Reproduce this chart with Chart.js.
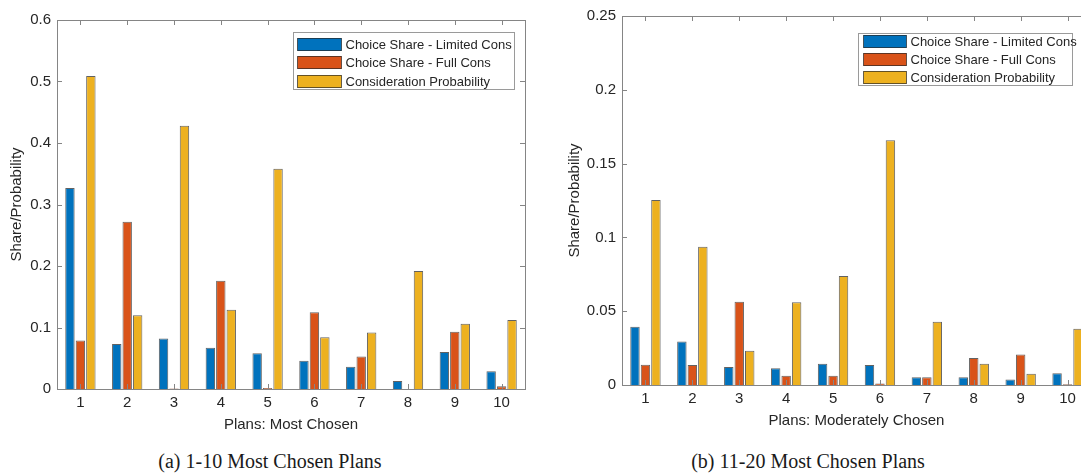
<!DOCTYPE html>
<html>
<head>
<meta charset="utf-8">
<script src="https://cdn.jsdelivr.net/npm/chart.js@4.4.0/dist/chart.umd.min.js"></script>
<style>
  html, body { margin: 0; padding: 0; background: #fff; width: 1081px; height: 476px; overflow: hidden; position: relative; }
  canvas { position: absolute; top: 0; }
  #chartA { left: 0; }
  #chartB { left: 560px; }
  .caption { position: absolute; top: 450px; font-family: "Liberation Serif", serif; font-size: 20px; color: #1a1a1a; transform: translateX(-50%); white-space: nowrap; }
</style>
</head>
<body>
<canvas id="chartA" width="540" height="440"></canvas>
<canvas id="chartB" width="546" height="436"></canvas>
<div class="caption" style="left:270px">(a) 1-10 Most Chosen Plans</div>
<div class="caption" style="left:808px">(b) 11-20 Most Chosen Plans</div>
<script>
// categories
const plans = ['1', '2', '3', '4', '5', '6', '7', '8', '9', '10'];
const seriesNames = ['Choice Share - Limited Cons', 'Choice Share - Full Cons', 'Consideration Probability'];
const seriesColors = ['#0072BD', '#D95319', '#EDB120'];

// (a) 1-10 most chosen plans
const mostLimited  = [0.327, 0.073, 0.082, 0.067, 0.058, 0.046, 0.036, 0.013, 0.060, 0.029];
const mostFull     = [0.079, 0.272, 0.001, 0.176, 0.0015, 0.125, 0.053, 0.0, 0.093, 0.0043];
const mostConsider = [0.509, 0.120, 0.428, 0.129, 0.358, 0.084, 0.092, 0.192, 0.106, 0.112];

// (b) 11-20 most chosen plans
const modLimited  = [0.0394, 0.0295, 0.0122, 0.0113, 0.0144, 0.0135, 0.0052, 0.0052, 0.0038, 0.0079];
const modFull     = [0.0138, 0.0135, 0.0564, 0.0063, 0.0063, 0.0010, 0.0052, 0.0183, 0.0207, 0.0005];
const modConsider = [0.1253, 0.0936, 0.0232, 0.0561, 0.0739, 0.1659, 0.0428, 0.0144, 0.0077, 0.0381];

// y tick labels
const mostTicks = [0, 0.1, 0.2, 0.3, 0.4, 0.5, 0.6];
const modTicks  = [0, 0.05, 0.1, 0.15, 0.2, 0.25];

const textColor = '#262626';
const axisColor = '#858585';
const sans = '"Liberation Sans", Arial, sans-serif';

// matlab style box, inward ticks and boxed legend inside the axes
const matlabFrame = {
  id: 'matlabFrame',
  afterDraw(chart, args, opts) {
    const { ctx, chartArea: a, scales: { x, y } } = chart;
    ctx.save();
    ctx.strokeStyle = axisColor;
    ctx.lineWidth = 1;
    ctx.beginPath();
    x.ticks.forEach((t, i) => {
      const px = Math.round(x.getPixelForTick(i)) + 0.5;
      ctx.moveTo(px, a.bottom); ctx.lineTo(px, a.bottom - 5);
      ctx.moveTo(px, a.top); ctx.lineTo(px, a.top + 5);
    });
    y.ticks.forEach((t, i) => {
      const py = Math.round(y.getPixelForTick(i)) + 0.5;
      ctx.moveTo(a.left, py); ctx.lineTo(a.left + 5, py);
      ctx.moveTo(a.right, py); ctx.lineTo(a.right - 5, py);
    });
    ctx.stroke();
    ctx.strokeRect(Math.round(a.left) + 0.5, Math.round(a.top) + 0.5, Math.round(a.width), Math.round(a.height));

    // legend
    const x0 = Math.round(a.right - opts.right - opts.width) + 0.5;
    const y0 = Math.round(a.top + opts.top) + 0.5;
    ctx.fillStyle = '#fff';
    ctx.fillRect(x0, y0, opts.width, opts.height);
    ctx.strokeStyle = '#9a9a9a';
    ctx.strokeRect(x0, y0, opts.width, opts.height);
    ctx.font = '13px ' + sans;
    ctx.textBaseline = 'middle';
    chart.data.datasets.forEach((ds, i) => {
      const sy = Math.round(y0 + opts.padTop + i * opts.rowH);
      ctx.fillStyle = ds.backgroundColor;
      ctx.fillRect(x0 + opts.padLeft, sy, opts.swatchW, opts.swatchH);
      ctx.strokeStyle = 'rgba(40,40,40,0.7)';
      ctx.strokeRect(x0 + opts.padLeft, sy + 0.5, opts.swatchW, opts.swatchH - 1);
      ctx.fillStyle = textColor;
      ctx.fillText(ds.label, x0 + opts.padLeft + opts.swatchW + 4, sy + opts.swatchH / 2 + 0.5);
    });
    ctx.restore();
  }
};

function makeChart(id, series, yTicks, xTitle, yWidth, yTitlePad, pad, legendOpts) {
  return new Chart(document.getElementById(id), {
    type: 'bar',
    data: {
      labels: plans,
      datasets: series.map((vals, i) => ({
        label: seriesNames[i],
        data: vals,
        backgroundColor: seriesColors[i],
        borderColor: 'rgba(45,45,45,0.75)',
        borderWidth: 1,
        barPercentage: 0.9,
        categoryPercentage: 0.67
      }))
    },
    options: {
      responsive: false,
      animation: false,
      layout: { padding: pad },
      plugins: {
        legend: { display: false },
        tooltip: { enabled: false },
        matlabFrame: legendOpts
      },
      scales: {
        x: {
          grid: { display: false, drawTicks: false },
          border: { display: false },
          ticks: { color: textColor, font: { family: sans, size: 15 }, padding: 5, maxRotation: 0 },
          title: { display: true, text: xTitle, color: textColor, font: { family: sans, size: 15 }, padding: { top: 0, bottom: 6 } },
          afterFit(s) { s.height = 51; }
        },
        y: {
          min: 0,
          max: yTicks[yTicks.length - 1],
          grid: { display: false, drawTicks: false },
          border: { display: false },
          afterBuildTicks(s) { s.ticks = yTicks.map(v => ({ value: v })); },
          ticks: {
            color: textColor,
            font: { family: sans, size: 15 },
            padding: 6,
            callback: v => String(+Number(v).toFixed(4))
          },
          title: { display: true, text: 'Share/Probability', color: textColor, font: { family: sans, size: 15 }, padding: { top: yTitlePad, bottom: 0 } },
          afterFit(s) { s.width = yWidth; }
        }
      }
    },
    plugins: [matlabFrame]
  });
}

makeChart('chartA', [mostLimited, mostFull, mostConsider], mostTicks, 'Plans: Most Chosen', 57, 8,
  { left: 0, top: 20, right: 15, bottom: 0 },
  { right: 11, top: 12, width: 221, height: 57, padTop: 5, rowH: 18.5, padLeft: 4, swatchW: 44, swatchH: 13 });

makeChart('chartB', [modLimited, modFull, modConsider], modTicks, 'Plans: Moderately Chosen', 62, 6,
  { left: 0, top: 16, right: 15, bottom: 0 },
  { right: 19, top: 17, width: 214, height: 52, padTop: 1, rowH: 18, padLeft: 5, swatchW: 43, swatchH: 13 });
</script>
</body>
</html>
